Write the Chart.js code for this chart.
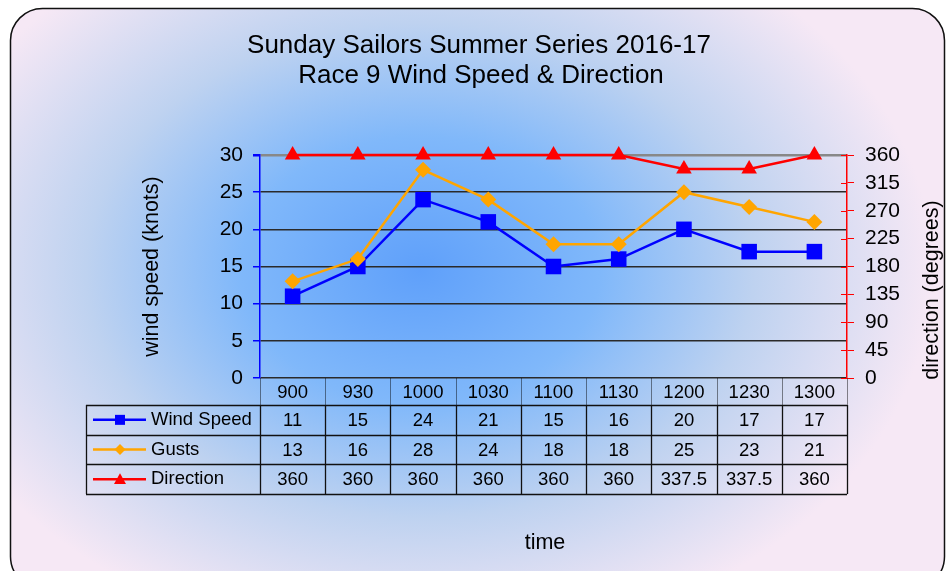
<!DOCTYPE html>
<html>
<head>
<meta charset="utf-8">
<script src="https://cdn.jsdelivr.net/npm/chart.js@4/dist/chart.umd.min.js"></script>
<style>
  html, body { margin: 0; padding: 0; background: #fff; }
  canvas { display: block; }
</style>
</head>
<body>
<canvas id="windChart" width="948" height="571"></canvas>
<script>
const times = ['900', '930', '1000', '1030', '1100', '1130', '1200', '1230', '1300'];
const windSpeed = [11, 15, 24, 21, 15, 16, 20, 17, 17];
const gusts = [13, 16, 28, 24, 18, 18, 25, 23, 21];
const direction = [360, 360, 360, 360, 360, 360, 337.5, 337.5, 360];

const FONT = 'Arial, "Liberation Sans", sans-serif';

// rounded panel + blue glow behind everything
const backdrop = {
  id: 'backdrop',
  beforeDraw(chart) {
    const ctx = chart.ctx;
    ctx.save();
    ctx.fillStyle = '#fff';
    ctx.fillRect(0, 0, chart.width, chart.height);

    ctx.beginPath();
    ctx.roundRect(10.5, 8.5, 934, 580, 32);
    ctx.save();
    ctx.clip();
    ctx.fillStyle = '#f6e8f5';
    ctx.fillRect(0, 0, chart.width, chart.height);
    // elliptical glow
    ctx.translate(420, 270);
    ctx.scale(1.35, 1);
    const g = ctx.createRadialGradient(0, 0, 0, 0, 0, 380);
    g.addColorStop(0, 'rgb(95,160,250)');
    g.addColorStop(0.35, 'rgb(128,184,250)');
    g.addColorStop(0.65, 'rgb(190,210,240)');
    g.addColorStop(1, 'rgba(246,232,245,1)');
    ctx.fillStyle = g;
    ctx.fillRect(-500, -400, 1000, 800);
    ctx.restore();
    ctx.lineWidth = 1.5;
    ctx.strokeStyle = '#111';
    ctx.stroke();
    ctx.restore();
  }
};

function drawMarker(ctx, style, x, y, size, color) {
  ctx.fillStyle = color;
  ctx.beginPath();
  if (style === 'rect') {
    ctx.rect(x - size, y - size, size * 2, size * 2);
  } else if (style === 'diamond') {
    ctx.moveTo(x, y - size);
    ctx.lineTo(x + size, y);
    ctx.lineTo(x, y + size);
    ctx.lineTo(x - size, y);
    ctx.closePath();
  } else {
    ctx.moveTo(x, y - size);
    ctx.lineTo(x + size, y + size * 0.8);
    ctx.lineTo(x - size, y + size * 0.8);
    ctx.closePath();
  }
  ctx.fill();
}

// titles, inner right-axis ticks and the data table under the plot
const extras = {
  id: 'extras',
  afterDraw(chart) {
    const ctx = chart.ctx;
    const area = chart.chartArea;
    const x = chart.scales.x;
    const y2 = chart.scales.y2;
    ctx.save();

    ctx.fillStyle = '#000';
    ctx.textAlign = 'center';
    ctx.textBaseline = 'middle';
    ctx.font = '26px ' + FONT;
    ctx.fillText('Sunday Sailors Summer Series 2016-17', 479, 46);
    ctx.fillText('Race 9 Wind Speed & Direction', 481, 76);

    ctx.font = '21.5px ' + FONT;
    ctx.fillText('time', 545, 543);

    // right axis title reads bottom to top
    ctx.save();
    ctx.translate(932, 290);
    ctx.rotate(-Math.PI / 2);
    ctx.fillText('direction (degrees)', 0, 0);
    ctx.restore();

    // short red ticks on the inner side of the direction axis
    ctx.strokeStyle = '#ff0000';
    ctx.lineWidth = 1;
    for (let v = 0; v <= 360; v += 45) {
      const py = Math.round(y2.getPixelForValue(v)) + 0.5;
      ctx.beginPath();
      ctx.moveTo(area.right - 6, py);
      ctx.lineTo(area.right, py);
      ctx.stroke();
    }

    // data table
    const band = (area.right - area.left) / times.length;
    const top = area.bottom;
    const headerH = 27;
    const rowH = 29.7;
    const legendLeft = 86;
    const rows = [
      { label: 'Wind Speed', data: windSpeed, color: '#0000ff', style: 'rect', size: 5 },
      { label: 'Gusts', data: gusts, color: '#ffa500', style: 'diamond', size: 5.5 },
      { label: 'Direction', data: direction, color: '#ff0000', style: 'triangle', size: 6 }
    ];

    ctx.font = '18.5px ' + FONT;
    ctx.fillStyle = '#000';
    times.forEach((t, i) => {
      ctx.fillText(t, x.getPixelForValue(i), top + headerH / 2 + 1);
    });

    // header column separators (faint)
    ctx.strokeStyle = 'rgba(0,0,0,0.45)';
    ctx.lineWidth = 1;
    for (let i = 0; i <= times.length; i++) {
      const px = Math.round(area.left + band * i) + 0.5;
      ctx.beginPath();
      ctx.moveTo(px, top);
      ctx.lineTo(px, top + headerH);
      ctx.stroke();
    }

    rows.forEach((r, k) => {
      const ry = top + headerH + rowH * k;
      const cy = ry + rowH / 2;
      // legend key
      ctx.strokeStyle = r.color;
      ctx.lineWidth = 2.5;
      ctx.beginPath();
      ctx.moveTo(93, cy);
      ctx.lineTo(146, cy);
      ctx.stroke();
      drawMarker(ctx, r.style, 120, cy, r.size, r.color);
      ctx.fillStyle = '#000';
      ctx.textAlign = 'left';
      ctx.fillText(r.label, 151, cy);
      ctx.textAlign = 'center';
      r.data.forEach((v, i) => {
        ctx.fillText(String(v), x.getPixelForValue(i), cy + 1);
      });
    });

    // grid lines of the table body
    ctx.strokeStyle = '#111';
    ctx.lineWidth = 1.3;
    const bodyTop = top + headerH;
    const bodyBottom = bodyTop + rowH * rows.length;
    for (let k = 0; k <= rows.length; k++) {
      const py = Math.round(bodyTop + rowH * k) + 0.5;
      ctx.beginPath();
      ctx.moveTo(legendLeft, py);
      ctx.lineTo(area.right, py);
      ctx.stroke();
    }
    ctx.beginPath();
    ctx.moveTo(legendLeft + 0.5, bodyTop);
    ctx.lineTo(legendLeft + 0.5, bodyBottom);
    ctx.stroke();
    for (let i = 0; i <= times.length; i++) {
      const px = Math.round(area.left + band * i) + 0.5;
      ctx.beginPath();
      ctx.moveTo(px, bodyTop);
      ctx.lineTo(px, bodyBottom);
      ctx.stroke();
    }

    ctx.restore();
  }
};

const ctx = document.getElementById('windChart');

new Chart(ctx, {
  type: 'line',
  data: {
    labels: times,
    datasets: [
      {
        label: 'Direction',
        data: direction,
        yAxisID: 'y2',
        borderColor: '#ff0000',
        backgroundColor: '#ff0000',
        borderWidth: 2.5,
        pointStyle: 'triangle',
        pointRadius: 9,
        pointBorderWidth: 0,
        clip: false
      },
      {
        label: 'Gusts',
        data: gusts,
        yAxisID: 'y',
        borderColor: '#ffa500',
        backgroundColor: '#ffa500',
        borderWidth: 2.5,
        pointStyle: 'rectRot',
        pointRadius: 8,
        pointBorderWidth: 0,
        clip: false
      },
      {
        label: 'Wind Speed',
        data: windSpeed,
        yAxisID: 'y',
        borderColor: '#0000ff',
        backgroundColor: '#0000ff',
        borderWidth: 2.5,
        pointStyle: 'rect',
        pointRadius: 11,
        pointBorderWidth: 0,
        clip: false
      }
    ]
  },
  options: {
    responsive: false,
    animation: false,
    layout: { padding: { top: 155, bottom: 193, left: 135, right: 5 } },
    plugins: {
      legend: { display: false },
      title: { display: false },
      tooltip: { enabled: false }
    },
    scales: {
      x: {
        display: false,
        offset: true
      },
      y: {
        position: 'left',
        min: 0,
        max: 30,
        ticks: {
          stepSize: 5,
          autoSkip: false,
          color: '#000',
          font: { size: 21, family: FONT },
          padding: 10
        },
        grid: {
          color: ctx => ctx.tick && ctx.tick.value === 30 ? '#888' : '#2a2a2a',
          lineWidth: ctx => ctx.tick && ctx.tick.value === 30 ? 2.5 : 1.5,
          tickColor: '#0000ff',
          tickLength: 7
        },
        border: { color: '#0000ff', width: 1.5 },
        title: {
          display: true,
          text: 'wind speed (knots)',
          color: '#000',
          font: { size: 21.5, family: FONT }
        },
        afterFit: s => { s.width = 125; }
      },
      y2: {
        position: 'right',
        min: 0,
        max: 360,
        ticks: {
          stepSize: 45,
          autoSkip: false,
          color: '#000',
          font: { size: 21, family: FONT },
          padding: 11
        },
        grid: {
          drawOnChartArea: false,
          tickColor: '#ff0000',
          tickLength: 7
        },
        border: { color: '#ff0000', width: 1.5 },
        afterFit: s => { s.width = 96; }
      }
    }
  },
  plugins: [backdrop, extras]
});
</script>
</body>
</html>
